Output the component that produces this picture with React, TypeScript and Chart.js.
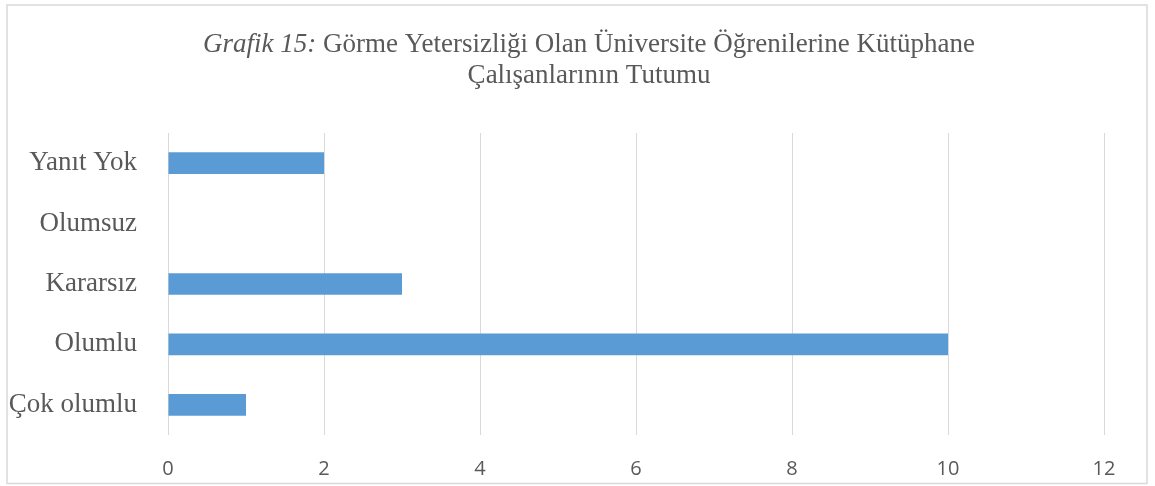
import React, { useEffect, useRef } from "react";
import { Chart, registerables } from "chart.js";

Chart.register(...registerables);

const categories = ["Yanıt Yok", "Olumsuz", "Kararsız", "Olumlu", "Çok olumlu"];
const values = [2, 0, 3, 10, 1];
const titleItalic = "Grafik 15:";
const titleLine1 = " Görme Yetersizliği Olan Üniversite Öğrenilerine Kütüphane";
const titleLine2 = "Çalışanlarının Tutumu";

const TEXT = "#595959";
const SERIF = "'Liberation Serif', 'Times New Roman', serif";

const decor = {
  id: "decor",
  beforeDraw(chart: any) {
    const ctx = chart.ctx;
    ctx.save();
    ctx.fillStyle = "#ffffff";
    ctx.fillRect(0, 0, chart.width, chart.height);
    ctx.strokeStyle = "#d9d9d9";
    ctx.lineWidth = 1.5;
    ctx.strokeRect(7, 5, 1140, 478.5);
    ctx.restore();
  },
  afterDraw(chart: any) {
    const ctx = chart.ctx;
    ctx.save();
    ctx.fillStyle = TEXT;
    ctx.textBaseline = "middle";
    ctx.textAlign = "left";
    const cx = 589;
    ctx.font = `italic 27px ${SERIF}`;
    const w1 = ctx.measureText(titleItalic).width;
    ctx.font = `27px ${SERIF}`;
    const w2 = ctx.measureText(titleLine1).width;
    const start = cx - (w1 + w2) / 2;
    ctx.font = `italic 27px ${SERIF}`;
    ctx.fillText(titleItalic, start, 45);
    ctx.font = `27px ${SERIF}`;
    ctx.fillText(titleLine1, start + w1, 45);
    ctx.textAlign = "center";
    ctx.fillText(titleLine2, cx, 76);
    ctx.restore();
  },
};

export default function App() {
  const ref = useRef<HTMLCanvasElement | null>(null);
  useEffect(() => {
    if (!ref.current) return;
    const chart = new Chart(ref.current, {
      type: "bar",
      data: {
        labels: categories,
        datasets: [
          {
            data: values,
            backgroundColor: "#5b9bd5",
            barPercentage: 0.36,
            categoryPercentage: 1,
          },
        ],
      },
      options: {
        indexAxis: "y",
        animation: false,
        responsive: true,
        maintainAspectRatio: false,
        layout: { padding: { left: 8, right: 51, top: 133, bottom: 0 } },
        plugins: { legend: { display: false }, title: { display: false }, tooltip: { enabled: false } },
        scales: {
          x: {
            min: 0,
            max: 12,
            ticks: {
              stepSize: 2,
              color: TEXT,
              padding: 22,
              font: { family: "'Open Sans', 'Liberation Sans', sans-serif", size: 20 },
            },
            grid: { color: "#d9d9d9", lineWidth: 1, drawTicks: false },
            border: { display: false },
            afterFit: (s: any) => {
              s.height = 51;
            },
          },
          y: {
            ticks: {
              color: TEXT,
              padding: 31,
              font: { family: SERIF, size: 27 },
            },
            grid: { display: false, drawTicks: false },
            border: { display: false },
            afterFit: (s: any) => {
              s.width = 160;
            },
          },
        },
      },
      plugins: [decor],
    });
    return () => chart.destroy();
  }, []);
  return (
    <div style={{ position: "fixed", left: 0, top: 0, width: 1155, height: 486 }}>
      <canvas ref={ref} />
    </div>
  );
}
